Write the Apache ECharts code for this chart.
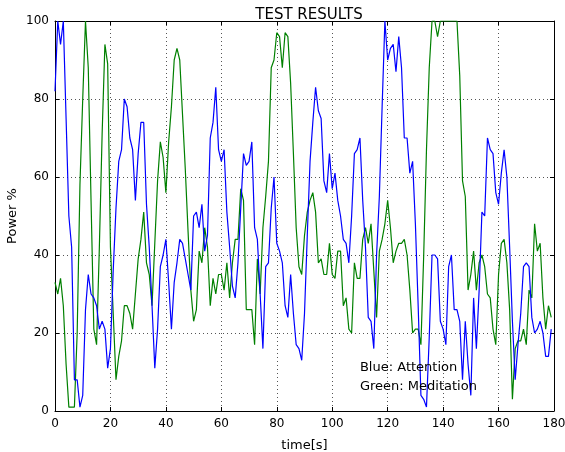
<!DOCTYPE html>
<html>
<head>
<meta charset="utf-8">
<script src="https://cdn.jsdelivr.net/npm/echarts@6/dist/echarts.min.js"></script>
<style>
html,body{margin:0;padding:0;background:#fff;}
#chart{width:565px;height:452px;}
</style>
</head>
<body>
<div id="chart"></div>
<script>
// Data (one sample per second, t = 0..179)
const attention = [82,100,94,100,75,50,42,8,8,1,
4,26,35,30,29,27,21,23,21,11,
16,36,52,64,67,80,78,70,67,54,
66,74,74,53,42,27,11,21,37,40,
44,33,21,33,38,44,43,39,35,31,
50,51,47,53,41,45,70,74,83,67,
64,67,51,42,32,29,38,52,66,63,
64,69,47,44,30,16,37,38,52,60,
43,41,38,27,24,35,25,17,16,13,
25,45,64,74,83,77,75,59,56,66,
57,61,54,50,44,43,38,50,66,67,
70,54,42,24,23,16,40,55,78,100,
90,93,94,87,96,88,70,70,61,64,
48,27,4,3,1,19,40,40,39,23,
21,17,37,40,26,26,23,8,23,12,
4,29,16,31,51,50,70,67,66,56,
53,61,67,60,42,23,8,17,25,37,
38,37,24,20,21,23,20,14,14,21];

const meditation = [33,30,34,27,12,1,1,1,20,58,
80,100,88,54,21,17,42,71,94,89,
42,25,8,14,18,27,27,25,21,30,
39,44,51,38,35,27,43,59,69,65,
56,69,78,90,93,90,76,62,46,31,
23,26,41,38,47,42,27,34,30,35,
35,31,38,29,38,44,44,57,54,26,
26,26,17,39,30,47,55,64,88,90,
97,96,88,97,96,84,66,47,37,35,
45,51,54,56,51,38,39,35,35,43,
35,34,41,41,27,29,21,20,38,34,
34,44,47,43,48,36,24,41,44,48,
54,47,38,41,43,43,44,40,31,20,
21,21,17,40,67,88,100,100,96,100,
100,100,100,100,100,100,86,59,55,31,
35,41,31,38,40,37,30,29,21,17,
35,43,44,38,26,3,16,18,18,21,
17,31,29,48,41,43,29,21,27,24];

const xTicks = {min:0, max:180, interval:20};
const yTicks = {min:0, max:100, interval:20};
const titleText = 'TEST RESULTS';
const xName = 'time[s]';
const yName = 'Power %';
const notes = [{x:110, y:10, text:'Blue: Attention'}, {x:110, y:5, text:'Green: Meditation'}];

const FONT = 'DejaVu Sans';
const chart = echarts.init(document.getElementById('chart'), null, {renderer:'canvas'});

const axisCommonX = {
  type:'value', min:xTicks.min, max:xTicks.max, interval:xTicks.interval,
  axisLine:{show:true, onZero:false, lineStyle:{color:'#000', width:1}},
  axisTick:{show:true, inside:true, length:4, lineStyle:{color:'#000'}},
  splitLine:{show:false}
};
const axisCommonY = {
  type:'value', min:yTicks.min, max:yTicks.max, interval:yTicks.interval,
  axisLine:{show:true, onZero:false, lineStyle:{color:'#000', width:1}},
  axisTick:{show:true, inside:true, length:4, lineStyle:{color:'#000'}},
  splitLine:{show:false}
};

chart.setOption({
  animation:false,
  backgroundColor:'#fff',
  textStyle:{fontFamily:FONT},
  title:{text:titleText, left:304, textAlign:'center', top:3,
    textStyle:{fontFamily:FONT, fontSize:15, fontWeight:'normal', color:'#000'}},
  grid:{left:55, right:11, top:21, bottom:41, containLabel:false, outerBoundsMode:'none'},
  xAxis:[
    Object.assign({}, axisCommonX, {
      position:'bottom',
      name:xName, nameLocation:'middle', nameGap:28, nameMoveOverlap:false,
      nameTextStyle:{fontFamily:FONT, fontSize:13, color:'#000'},
      axisLabel:{show:true, margin:7, fontFamily:FONT, fontSize:12, color:'#000'},
      splitLine:{show:true, lineStyle:{color:'#555', width:1, type:[1,3]}}
    }),
    Object.assign({}, axisCommonX, {position:'top', axisLabel:{show:false}})
  ],
  yAxis:[
    Object.assign({}, axisCommonY, {
      position:'left',
      name:yName, nameLocation:'middle', nameGap:36, nameRotate:90, nameMoveOverlap:false,
      nameTextStyle:{fontFamily:FONT, fontSize:13, color:'#000'},
      axisLabel:{show:true, margin:6, fontFamily:FONT, fontSize:12, color:'#000'},
      splitLine:{show:true, lineStyle:{color:'#555', width:1, type:[1,3]}}
    }),
    Object.assign({}, axisCommonY, {position:'right', axisLabel:{show:false}})
  ],
  series:[
    {name:'Attention', type:'line', xAxisIndex:0, yAxisIndex:0, showSymbol:false, symbol:'none',
      clip:true, lineStyle:{color:'#0000ff', width:1.2}, itemStyle:{color:'#0000ff'},
      data:attention.map((v,i)=>[i,v]), z:3},
    {name:'Meditation', type:'line', xAxisIndex:0, yAxisIndex:0, showSymbol:false, symbol:'none',
      clip:true, lineStyle:{color:'#008000', width:1.2}, itemStyle:{color:'#008000'},
      data:meditation.map((v,i)=>[i,v]), z:2}
  ]
});

const g = notes.map(n => {
  const p = chart.convertToPixel({gridIndex:0}, [n.x, n.y]);
  return {type:'text', x:p[0], y:p[1] + 2, z:10,
    style:{text:n.text, fontFamily:FONT, fontSize:13, fill:'#000', textAlign:'left', textVerticalAlign:'bottom'}};
});
chart.setOption({graphic:g});
</script>
</body>
</html>
